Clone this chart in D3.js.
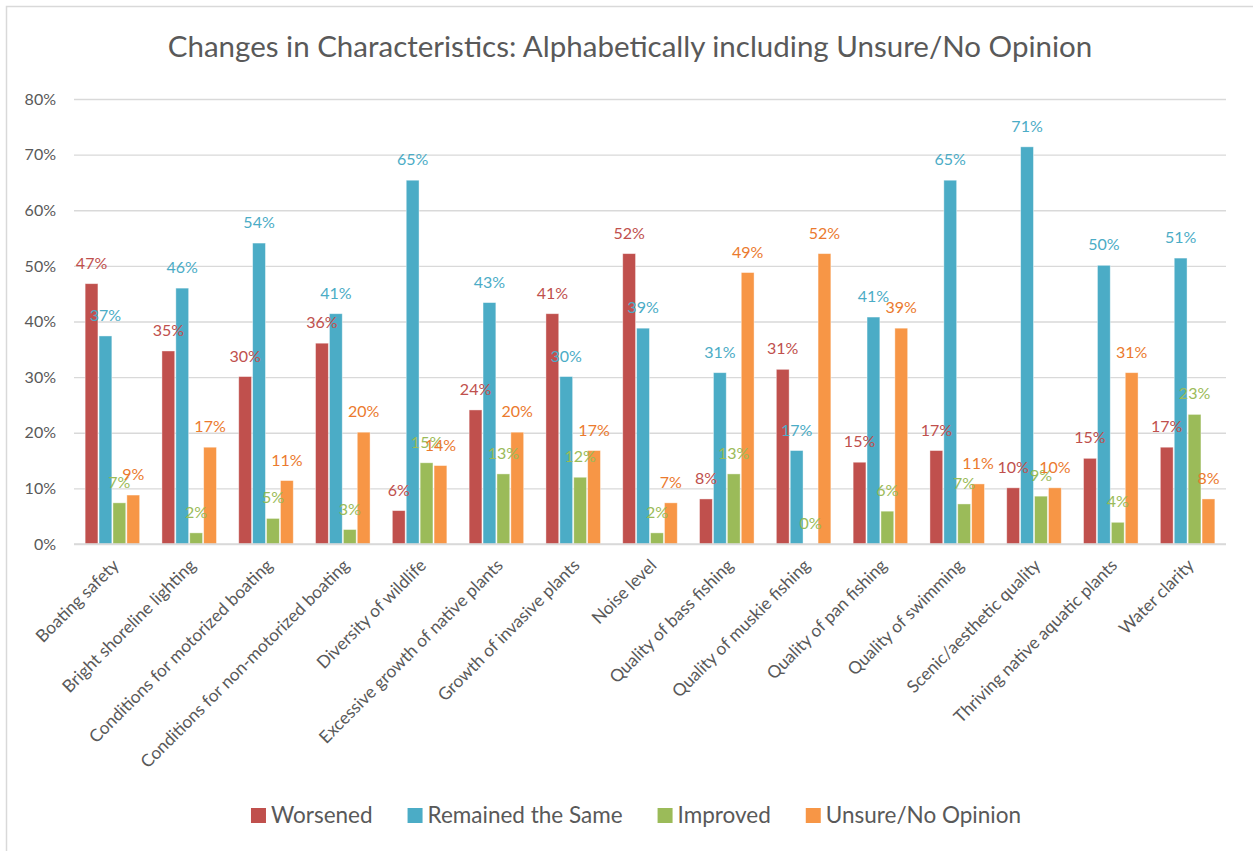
<!DOCTYPE html>
<html>
<head>
<meta charset="utf-8">
<script src="https://cdn.jsdelivr.net/npm/d3@7"></script>
<style>
  body { margin: 0; background: #fff; }
  text { font-family: Lato, "Open Sans", sans-serif; }
</style>
</head>
<body>
<div id="chart"></div>
<script>
// Dimensions
const width = 1253;
const height = 851;
const margin = { top: 99, right: 27, bottom: 307, left: 74 };

// Donnees
const categories = [
  "Boating safety",
  "Bright shoreline lighting",
  "Conditions for motorized boating",
  "Conditions for non-motorized boating",
  "Diversity of wildlife",
  "Excessive growth of native plants",
  "Growth of invasive plants",
  "Noise level",
  "Quality of bass fishing",
  "Quality of muskie fishing",
  "Quality of pan fishing",
  "Quality of swimming",
  "Scenic/aesthetic quality",
  "Thriving native aquatic plants",
  "Water clarity"
];
const seriesNames = ["Worsened", "Remained the Same", "Improved", "Unsure/No Opinion"];
const worsened = [0.468, 0.347, 0.301, 0.361, 0.060, 0.241, 0.414, 0.522, 0.081, 0.314, 0.147, 0.168, 0.101, 0.154, 0.174];
const remained = [0.374, 0.460, 0.541, 0.414, 0.654, 0.434, 0.301, 0.388, 0.308, 0.168, 0.408, 0.654, 0.714, 0.501, 0.514];
const improved = [0.074, 0.020, 0.046, 0.026, 0.146, 0.126, 0.120, 0.020, 0.126, 0.000, 0.059, 0.072, 0.086, 0.039, 0.233];
const unsure = [0.088, 0.174, 0.114, 0.201, 0.141, 0.201, 0.168, 0.074, 0.488, 0.522, 0.388, 0.108, 0.101, 0.308, 0.081];
const yTicks = [0, 0.1, 0.2, 0.3, 0.4, 0.5, 0.6, 0.7, 0.8];

const seriesValues = [worsened, remained, improved, unsure];
const barColors = ["#C0504D", "#4BACC6", "#9BBB59", "#F79646"];
const labelColors = ["#C0504D", "#4BACC6", "#9BBB59", "#EB7A2E"];
const textColor = "#595959";
const gridColor = "#D9D9D9";

const svg = d3.select("#chart")
  .append("svg")
  .attr("width", width)
  .attr("height", height);

// Bordure du graphique
svg.append("rect")
  .attr("x", 6.5)
  .attr("y", 6.5)
  .attr("width", width + 10)
  .attr("height", height + 10)
  .attr("fill", "#fff")
  .attr("stroke", gridColor)
  .attr("stroke-width", 1.5);

// Titre
svg.append("text")
  .attr("x", 630)
  .attr("y", 57)
  .attr("text-anchor", "middle")
  .style("font-size", "29.5px")
  .style("fill", textColor)
  .text("Changes in Characteristics: Alphabetically including Unsure/No Opinion");

// Echelles
const x0 = d3.scaleBand()
  .domain(categories)
  .range([margin.left, width - margin.right])
  .paddingInner(0.29)
  .paddingOuter(0.145);

const x1 = d3.scaleBand()
  .domain(seriesNames)
  .range([0, x0.bandwidth()])
  .paddingInner(0.08);

const y = d3.scaleLinear()
  .domain([0, 0.8])
  .range([height - margin.bottom, margin.top]);

// Grille et axe Y
const yAxis = svg.append("g")
  .attr("transform", `translate(${margin.left},0)`)
  .call(d3.axisLeft(y).tickValues(yTicks).tickFormat(d3.format(".0%")).tickSize(-(width - margin.left - margin.right)).tickPadding(18));
yAxis.select(".domain").remove();
yAxis.selectAll(".tick line").attr("stroke", gridColor).attr("stroke-width", 1.3);
yAxis.selectAll(".tick text")
  .style("font-size", "16px")
  .style("font-family", "Lato")
  .style("fill", textColor);

// Barres
const groups = svg.append("g")
  .selectAll("g")
  .data(categories)
  .join("g")
  .attr("transform", (d) => `translate(${x0(d)},0)`);

groups.selectAll("rect")
  .data((d, i) => seriesNames.map((s, k) => ({ key: s, k: k, value: seriesValues[k][i] })))
  .join("rect")
  .attr("x", (d) => x1(d.key))
  .attr("y", (d) => y(d.value))
  .attr("width", x1.bandwidth())
  .attr("height", (d) => y(0) - y(d.value))
  .attr("fill", (d) => barColors[d.k])
  .attr("stroke", "#fff")
  .attr("stroke-opacity", 0.5)
  .attr("stroke-width", 0.8);

// Etiquettes de valeurs
groups.selectAll("text.value")
  .data((d, i) => seriesNames.map((s, k) => ({ key: s, k: k, value: seriesValues[k][i] })))
  .join("text")
  .attr("class", "value")
  .attr("x", (d) => x1(d.key) + x1.bandwidth() / 2)
  .attr("y", (d) => y(d.value) - 15)
  .attr("text-anchor", "middle")
  .style("font-size", "16px")
  .style("fill", (d) => labelColors[d.k])
  .text((d) => d3.format(".0%")(d.value));

// Ligne de base
svg.append("line")
  .attr("x1", margin.left)
  .attr("x2", width - margin.right)
  .attr("y1", y(0))
  .attr("y2", y(0))
  .attr("stroke", gridColor)
  .attr("stroke-width", 1.5);

// Etiquettes de l'axe X
svg.append("g")
  .selectAll("text")
  .data(categories)
  .join("text")
  .attr("transform", (d) => `translate(${x0(d) + x0.bandwidth() / 2 - 1},558) rotate(-45)`)
  .attr("text-anchor", "end")
  .attr("dy", "0.7em")
  .style("font-size", "17.3px")
  .style("fill", textColor)
  .text((d) => d);

// Legende
const legend = svg.append("g");
let lx = 0;
seriesNames.forEach((s, k) => {
  const item = legend.append("g").attr("transform", `translate(${lx},0)`);
  item.append("rect")
    .attr("x", 0)
    .attr("y", 808)
    .attr("width", 15)
    .attr("height", 15)
    .attr("fill", barColors[k]);
  const t = item.append("text")
    .attr("x", 20)
    .attr("y", 823)
    .style("font-size", "22.5px")
    .style("fill", textColor)
    .text(s);
  lx += 20 + t.node().getComputedTextLength() + 35;
});
const legendWidth = lx - 35;
legend.attr("transform", `translate(${636 - legendWidth / 2},0)`);
</script>
</body>
</html>
